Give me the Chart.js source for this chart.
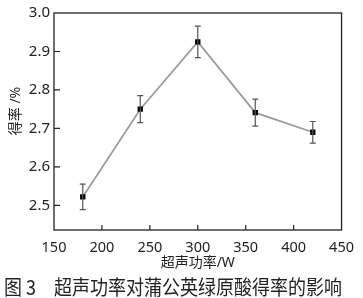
<!DOCTYPE html>
<html>
<head>
<meta charset="utf-8">
<script src="https://cdn.jsdelivr.net/npm/chart.js@4"></script>
<style>
  html, body { margin: 0; padding: 0; background: #fff; }
  #wrap { position: relative; width: 363px; height: 298px; }
  #caption {
    position: absolute; left: 4px; top: 275px;
    font-family: "Noto Sans CJK SC", sans-serif; font-size: 18px; line-height: 22px;
    color: #222; white-space: pre;
    transform: scaleY(1.12); transform-origin: 0 50%;
  }
</style>
</head>
<body>
<div id="wrap">
  <canvas id="chart" width="363" height="298"></canvas>
  <div id="caption">图 3　超声功率对蒲公英绿原酸得率的影响</div>
</div>
<script>
// data
const powers = [180, 240, 300, 360, 420];
const yields = [2.522, 2.750, 2.925, 2.741, 2.690];
const errors = [0.033, 0.035, 0.041, 0.035, 0.028];
const xTicks = [150, 200, 250, 300, 350, 400, 450];
const yTicks = [2.5, 2.6, 2.7, 2.8, 2.9, 3.0];

const FONT = '"Noto Sans", "Noto Sans CJK SC", sans-serif';
const TEXT = '#222';

// error bars drawn from the y scale
const errorBars = {
  id: 'errorBars',
  afterDatasetsDraw(chart) {
    const ctx = chart.ctx;
    const xs = chart.scales.x, ys = chart.scales.y;
    ctx.save();
    ctx.strokeStyle = '#555';
    ctx.lineWidth = 1.2;
    powers.forEach((p, i) => {
      const x = xs.getPixelForValue(p);
      const top = ys.getPixelForValue(yields[i] + errors[i]);
      const bot = ys.getPixelForValue(yields[i] - errors[i]);
      ctx.beginPath();
      ctx.moveTo(x, top); ctx.lineTo(x, bot);
      ctx.moveTo(x - 3, top); ctx.lineTo(x + 3, top);
      ctx.moveTo(x - 3, bot); ctx.lineTo(x + 3, bot);
      ctx.stroke();
    });
    ctx.restore();
  }
};

// box frame and inward ticks
const frame = {
  id: 'frame',
  afterDraw(chart) {
    const ctx = chart.ctx;
    const a = chart.chartArea;
    const xs = chart.scales.x, ys = chart.scales.y;
    ctx.save();
    ctx.strokeStyle = '#222';
    ctx.lineWidth = 1.3;
    ctx.strokeRect(a.left, a.top, a.right - a.left, a.bottom - a.top);
    ctx.lineWidth = 1.2;
    ctx.beginPath();
    xTicks.slice(1, -1).forEach(v => {
      const x = xs.getPixelForValue(v);
      ctx.moveTo(x, a.bottom); ctx.lineTo(x, a.bottom - 5);
    });
    yTicks.slice(0, -1).forEach(v => {
      const y = ys.getPixelForValue(v);
      ctx.moveTo(a.left, y); ctx.lineTo(a.left + 6, y);
    });
    ctx.stroke();
    ctx.restore();
  }
};

new Chart(document.getElementById('chart'), {
  type: 'line',
  data: {
    datasets: [{
      data: powers.map((p, i) => ({ x: p, y: yields[i] })),
      borderColor: '#9a9a9a',
      borderWidth: 1.7,
      pointStyle: 'rect',
      pointRadius: 3.8,
      pointBackgroundColor: '#000',
      pointBorderColor: '#000',
      pointBorderWidth: 0,
      tension: 0
    }]
  },
  plugins: [errorBars, frame],
  options: {
    responsive: false,
    animation: false,
    events: [],
    layout: { padding: { top: 10, right: 13, bottom: 27, left: 0 } },
    plugins: { legend: { display: false }, tooltip: { enabled: false } },
    scales: {
      x: {
        type: 'linear',
        min: 150, max: 450,
        afterBuildTicks: s => { s.ticks = xTicks.map(v => ({ value: v })); },
        afterFit: s => { s.height = 41; },
        grid: { display: false, drawTicks: false },
        border: { display: false },
        ticks: { padding: 9, color: TEXT, font: { family: FONT, size: 14.5 } },
        title: {
          display: true, text: '超声功率/W', color: TEXT,
          padding: { top: 0, bottom: 0 },
          font: { family: FONT, size: 14 }
        }
      },
      y: {
        min: 2.436, max: 3.0,
        afterBuildTicks: s => { s.ticks = yTicks.map(v => ({ value: v })); },
        afterFit: s => { s.width = 54; },
        grid: { display: false, drawTicks: false },
        border: { display: false },
        ticks: {
          padding: 4, color: TEXT, font: { family: FONT, size: 15 },
          callback: v => v.toFixed(1)
        },
        title: {
          display: true, text: '\u2003\u2002得率 /%', color: TEXT,
          padding: { top: 8, bottom: 0 },
          font: { family: FONT, size: 14 }
        }
      }
    }
  }
});
</script>
</body>
</html>
